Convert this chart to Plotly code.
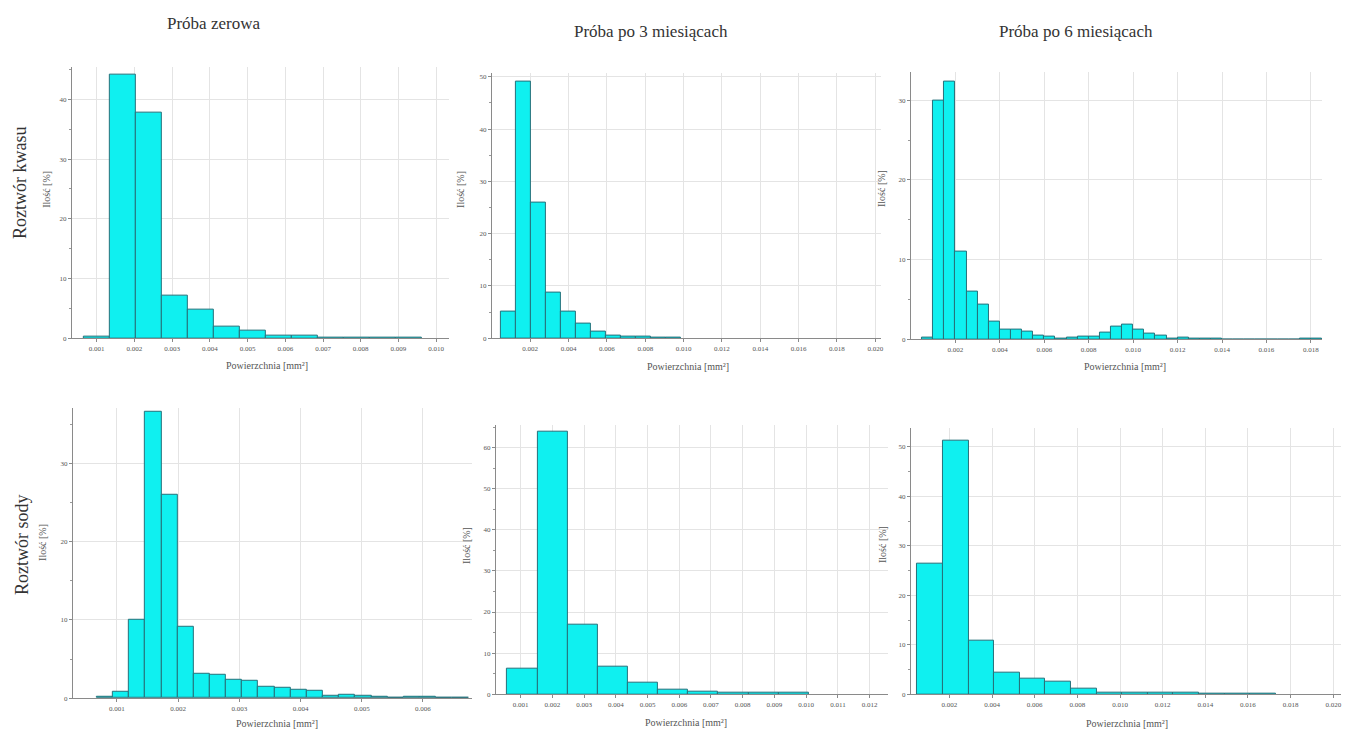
import numpy as np
import plotly.graph_objects as go

# ---------------- data ----------------
col_titles = ["Próba zerowa", "Próba po 3 miesiącach", "Próba po 6 miesiącach"]
row_titles = ["Roztwór kwasu", "Roztwór sody"]
y_label = "Ilość [%]"
x_label = "Powierzchnia [mm²]"

# Roztwór kwasu – Próba zerowa
p1_bin_start = 0.00066
p1_bin_width = 0.00069
p1_values = [0.3, 44.2, 37.8, 7.2, 4.8, 1.9, 1.3, 0.5, 0.4, 0.15, 0.1, 0.1, 0.1]
p1_xticks = [0.001, 0.002, 0.003, 0.004, 0.005, 0.006, 0.007, 0.008, 0.009, 0.010]
p1_yticks = [0, 10, 20, 30, 40]

# Roztwór kwasu – Próba po 3 miesiącach
p2_bin_start = 0.00048
p2_bin_width = 0.00078
p2_values = [5.1, 49.0, 25.9, 8.7, 5.1, 2.85, 1.3, 0.45, 0.3, 0.25, 0.2, 0.15]
p2_xticks = [0.002, 0.004, 0.006, 0.008, 0.010, 0.012, 0.014, 0.016, 0.018, 0.020]
p2_yticks = [0, 10, 20, 30, 40, 50]

# Roztwór kwasu – Próba po 6 miesiącach
p3_bin_start = 0.0005
p3_bin_width = 0.0005
p3_values = [0.2, 30.0, 32.3, 11.0, 6.0, 4.3, 2.2, 1.2, 1.2, 1.0, 0.5, 0.3, 0.1, 0.2, 0.3,
             0.3, 0.8, 1.6, 1.8, 1.2, 0.7, 0.5, 0.1, 0.2, 0.1, 0.1, 0.1, 0.0, 0.0, 0.0,
             0.0, 0.0, 0.0, 0.0, 0.1, 0.1]
p3_xticks = [0.002, 0.004, 0.006, 0.008, 0.010, 0.012, 0.014, 0.016, 0.018]
p3_yticks = [0, 10, 20, 30]

# Roztwór sody – Próba zerowa
p4_bin_start = 0.00067
p4_bin_width = 0.000264
p4_values = [0.2, 0.8, 10.0, 36.6, 26.0, 9.1, 3.1, 3.0, 2.4, 2.2, 1.5, 1.3, 1.1, 0.9,
             0.3, 0.4, 0.3, 0.2, 0.05, 0.2, 0.2, 0.1, 0.1]
p4_xticks = [0.001, 0.002, 0.003, 0.004, 0.005, 0.006]
p4_yticks = [0, 10, 20, 30]

# Roztwór sody – Próba po 3 miesiącach
p5_bin_start = 0.00058
p5_bin_width = 0.00095
p5_values = [6.1, 63.9, 16.9, 6.8, 2.9, 1.2, 0.6, 0.35, 0.3, 0.3]
p5_xticks = [0.001, 0.002, 0.003, 0.004, 0.005, 0.006, 0.007, 0.008, 0.009, 0.010, 0.011, 0.012]
p5_yticks = [0, 10, 20, 30, 40, 50, 60]

# Roztwór sody – Próba po 6 miesiącach
p6_bin_start = 0.0005
p6_bin_width = 0.0012
p6_values = [26.4, 51.3, 10.9, 4.4, 3.1, 2.6, 1.1, 0.4, 0.35, 0.25, 0.25, 0.2, 0.2, 0.2]
p6_xticks = [0.002, 0.004, 0.006, 0.008, 0.010, 0.012, 0.014, 0.016, 0.018, 0.020]
p6_yticks = [0, 10, 20, 30, 40, 50]

# ---------------- layout geometry (pixels) ----------------
W, H = 1346, 735
panels = [
    # values, start, width, xticks, yticks, xrange, yrange, px box (x0, x1, ytop, ybottom)
    (p1_values, p1_bin_start, p1_bin_width, p1_xticks, p1_yticks, [0.00034, 0.01034], [0, 45.5], (72, 450, 67, 340)),
    (p2_values, p2_bin_start, p2_bin_width, p2_xticks, p2_yticks, [0.0, 0.0203], [0, 50.8], (493, 883, 73, 340)),
    (p3_values, p3_bin_start, p3_bin_width, p3_xticks, p3_yticks, [0.0, 0.0185], [0, 33.6], (913, 1325, 72, 341)),
    (p4_values, p4_bin_start, p4_bin_width, p4_xticks, p4_yticks, [0.00028, 0.0068], [0, 37.1], (73, 473, 410, 702)),
    (p5_values, p5_bin_start, p5_bin_width, p5_xticks, p5_yticks, [0.00022, 0.01258], [0, 65.6], (497, 890, 427, 698)),
    (p6_values, p6_bin_start, p6_bin_width, p6_xticks, p6_yticks, [0.0002, 0.02036], [0, 53.9], (913, 1344, 430, 698)),
]

SERIF = "Liberation Serif, Times New Roman, serif"
fig = go.Figure()
layout = dict(
    width=W, height=H, margin=dict(l=0, r=0, t=0, b=0),
    paper_bgcolor="white", plot_bgcolor="white", showlegend=False,
    bargap=0, font=dict(family=SERIF, color="#444"),
)

tick_font = dict(family=SERIF, size=7, color="#555")
for i, (vals, start, width, xt, yt, xr, yr, box) in enumerate(panels, start=1):
    vals = np.array(vals)
    centers = start + width * (np.arange(len(vals)) + 0.5)
    xa = "x" if i == 1 else f"x{i}"
    ya = "y" if i == 1 else f"y{i}"
    fig.add_trace(go.Bar(
        x=centers, y=vals, width=width, xaxis=xa, yaxis=ya,
        marker=dict(color="#0ff0f0", line=dict(color="#26707a", width=1)),
        hoverinfo="x+y",
    ))
    x0, x1, yt_px, yb_px = box
    xkey = "xaxis" if i == 1 else f"xaxis{i}"
    ykey = "yaxis" if i == 1 else f"yaxis{i}"
    layout[xkey] = dict(
        domain=[x0 / W, x1 / W], anchor=ya, range=xr,
        tickvals=xt, ticktext=[f"{v:.3f}" for v in xt],
        tickfont=tick_font, showgrid=True, gridcolor="#e4e4e4", gridwidth=1,
        showline=True, linecolor="#8a8a8a", linewidth=1,
        ticks="outside", ticklen=3, tickcolor="#8a8a8a",
        zeroline=False, fixedrange=True,
    )
    layout[ykey] = dict(
        domain=[1 - yb_px / H, 1 - yt_px / H], anchor=xa, range=yr,
        tickvals=yt, tickfont=tick_font, showgrid=True, gridcolor="#e4e4e4",
        showline=True, linecolor="#8a8a8a", linewidth=1,
        ticks="outside", ticklen=3, tickcolor="#8a8a8a",
        minor=dict(ticks="outside", ticklen=2, tickcolor="#999", dtick=5, showgrid=False),
        zeroline=False, fixedrange=True,
    )

annotations = []

def ann(text, x, y, size, angle=0, color="#333"):
    annotations.append(dict(
        text=text, x=x / W, y=1 - y / H, xref="paper", yref="paper",
        showarrow=False, textangle=angle, xanchor="center", yanchor="middle",
        font=dict(family=SERIF, size=size, color=color),
    ))

# column titles
ann(col_titles[0], 214, 24, 17)
ann(col_titles[1], 652, 32, 17)
ann(col_titles[2], 1078, 32, 17)
# row titles
ann(row_titles[0], 20, 184, 18, angle=-90)
ann(row_titles[1], 22, 547, 18, angle=-90)
# y axis titles
for (x, y) in [(47, 190), (462, 190), (884, 190), (42, 545), (467, 548), (884, 548)]:
    ann(y_label, x, y, 10, angle=-90, color="#555")
# x axis titles
for (x, y) in [(268, 368), (690, 369), (1128, 369), (278, 727), (688, 726), (1130, 727)]:
    ann(x_label, x, y, 10, color="#555")

layout["annotations"] = annotations
fig.update_layout(**layout)
fig.write_html("out.html")
